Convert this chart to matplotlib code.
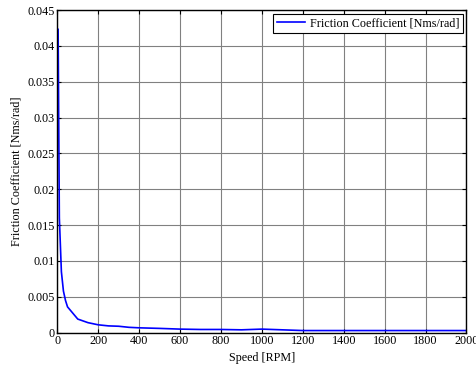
import matplotlib
matplotlib.use("Agg")
import matplotlib.pyplot as plt
import numpy as np

speed_rpm = [4, 10, 20, 30, 40, 50, 100, 150, 200, 250, 300, 350, 400, 500,
             600, 700, 800, 900, 1000, 1100, 1200, 1300, 1400, 1500, 1600,
             1700, 1800, 1900, 2000]
friction_coeff = [0.0423, 0.0160, 0.0085, 0.0058, 0.0045, 0.0036, 0.0019,
                  0.0014, 0.0011, 0.00095, 0.0009, 0.00075, 0.00068, 0.0006,
                  0.0005, 0.00045, 0.00045, 0.0004, 0.0005, 0.0004, 0.0003,
                  0.0003, 0.0003, 0.0003, 0.0003, 0.0003, 0.0003, 0.0003,
                  0.0003]
x_ticks = [0, 200, 400, 600, 800, 1000, 1200, 1400, 1600, 1800, 2000]
y_ticks = [0, 0.005, 0.01, 0.015, 0.02, 0.025, 0.03, 0.035, 0.04, 0.045]
y_tick_labels = ["0", "0.005", "0.01", "0.015", "0.02", "0.025", "0.03",
                 "0.035", "0.04", "0.045"]

plt.rcParams["font.family"] = ["Liberation Serif", "DejaVu Serif"]
plt.rcParams["font.size"] = 8.7

fig = plt.figure(figsize=(4.77, 3.67), dpi=100)
ax = fig.add_axes([57.3 / 477, 1 - 332.7 / 367, (466.5 - 57.3) / 477,
                   (332.7 - 10) / 367])

ax.plot(speed_rpm, friction_coeff, color="#0000ff", lw=1.2,
        label="Friction Coefficient [Nms/rad]")

ax.set_xlim(0, 2000)
ax.set_ylim(0, 0.045)
ax.set_xticks(x_ticks)
ax.set_xticklabels([str(t) for t in x_ticks])
ax.set_yticks(y_ticks)
ax.set_yticklabels(y_tick_labels)

ax.grid(True, color="#808080", lw=0.8, ls="-")
ax.set_axisbelow(True)
ax.tick_params(direction="in", top=True, right=True, length=3, width=0.8,
               pad=2, colors="black")
for s in ax.spines.values():
    s.set_linewidth(1.0)
    s.set_color("black")

ax.set_xlabel("Speed [RPM]", labelpad=3)
ax.set_ylabel("Friction Coefficient [Nms/rad]", labelpad=3)

leg = ax.legend(loc="upper right", fancybox=False, framealpha=1,
                edgecolor="black", borderpad=0.3, handlelength=2.3,
                handletextpad=0.4, borderaxespad=0.3)
leg.get_frame().set_linewidth(0.8)

fig.savefig("out.png", dpi=100)
